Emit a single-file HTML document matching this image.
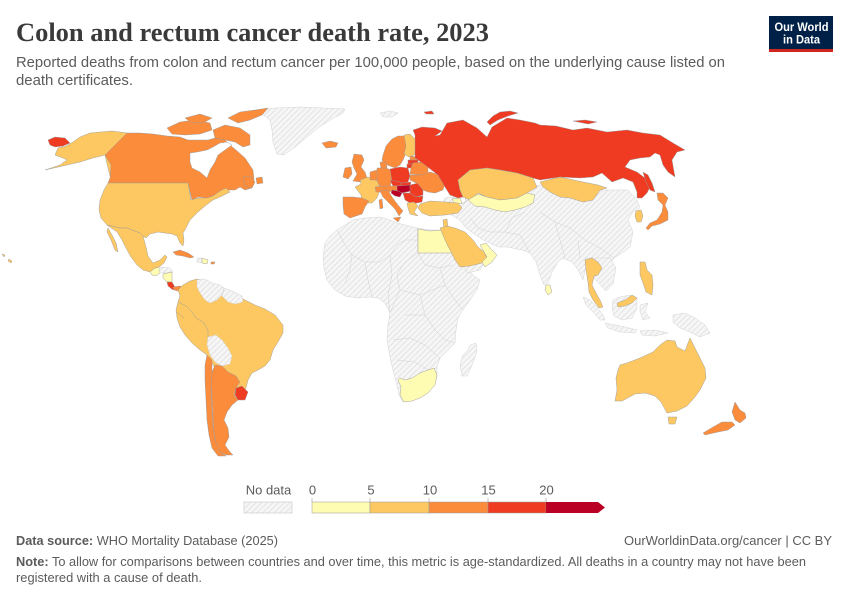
<!DOCTYPE html>
<html><head><meta charset="utf-8"><style>
html,body{margin:0;padding:0;background:#fff;}
svg{display:block;}
.c1{fill:#fefbb2}.c2{fill:#fdc861}.c3{fill:#fb8c3c}.c4{fill:#ee3b22}.c5{fill:#bb0026}
.m path,.m polygon{stroke:#9a9a9a;stroke-width:0.45;stroke-linejoin:round}
.nd{fill:url(#h);stroke:#cfcfcf !important;stroke-width:0.5}
.t{font-family:"Liberation Sans",sans-serif;fill:#5b5b5b}
</style></head><body>
<svg width="850" height="600" viewBox="0 0 850 600" xmlns="http://www.w3.org/2000/svg">
<defs>
<pattern id="h" width="4" height="4" patternUnits="userSpaceOnUse" patternTransform="rotate(45)">
<rect width="4" height="4" fill="#f6f6f6"/><line x1="0" y1="0" x2="0" y2="4" stroke="#d9d9d9" stroke-width="1.3"/>
</pattern>
</defs>
<rect width="850" height="600" fill="#fff"/>

<!-- Title -->
<text x="16" y="41" font-family="'Liberation Serif',serif" font-size="26" font-weight="bold" fill="#3a3a3a" textLength="473" lengthAdjust="spacingAndGlyphs">Colon and rectum cancer death rate, 2023</text>
<text class="t" x="16" y="67" font-size="14.5" textLength="709" lengthAdjust="spacingAndGlyphs">Reported deaths from colon and rectum cancer per 100,000 people, based on the underlying cause listed on</text>
<text class="t" x="16" y="85" font-size="14.5" textLength="117" lengthAdjust="spacingAndGlyphs">death certificates.</text>

<!-- Logo -->
<rect x="769" y="16" width="64" height="36" fill="#002147"/>
<rect x="769" y="49" width="64" height="3" fill="#ce261e"/>
<text x="801.5" y="31" font-family="'Liberation Sans',sans-serif" font-size="12" font-weight="bold" fill="#fff" text-anchor="middle" textLength="54" lengthAdjust="spacingAndGlyphs">Our World</text>
<text x="801.5" y="43.5" font-family="'Liberation Sans',sans-serif" font-size="12" font-weight="bold" fill="#fff" text-anchor="middle" textLength="37" lengthAdjust="spacingAndGlyphs">in Data</text>

<g class="m">
<!-- No data regions -->
<polygon class="nd" points="257,110 275,108 300,107 345,109 343,113 330,120 318,128 307,137 295,147 284,155 277,154 273,142 272,130 270,120 262,114"/>
<polygon class="nd" points="380,113 390,111 398,113 392,117 383,117"/>
<polygon class="nd" points="325,243 330,236 337,230 345,225 353,220 365,218 380,217 390,220 397,223 405,225 417,228 430,230 443,230 447,235 452,245 457,257 462,265 467,270 473,275 480,280 477,290 470,300 463,310 458,318 456,330 455,343 448,350 440,358 437,367 437,377 432,387 425,395 413,400 403,402 399,395 397,385 393,370 390,357 387,340 388,325 390,313 385,303 378,298 370,297 358,298 345,296 335,290 327,280 324,268 323,257"/>
<polygon class="nd" points="470,345 476,343 477,352 472,365 467,376 462,376 460,365 463,355 468,350"/>
<polygon class="nd" points="445,198 470,195 500,195 540,185 600,190 628,190 637,200 640,208 633,212 628,220 633,232 630,247 622,253 614,258 610,263 606,270 607,280 602,285 597,278 594,270 590,265 585,270 583,280 578,270 572,262 563,258 558,262 552,272 548,283 544,285 540,275 536,262 530,253 522,250 508,247 498,247 490,243 483,240 476,235 466,228 460,220 448,213 440,210"/>
<polygon class="nd" points="585,258 610,258 616,268 613,284 606,291 598,282 590,275"/>
<polygon class="nd" points="460,262 472,258 485,262 480,270 468,273"/>
<polygon class="nd" points="583,297 590,300 597,307 603,315 605,320 600,320 593,312 586,305"/>
<polygon class="nd" points="605,323 615,325 625,327 637,330 635,333 620,332 608,328"/>
<polygon class="nd" points="613,300 620,297 630,295 637,298 637,308 632,318 622,320 614,316 612,308"/>
<polygon class="nd" points="640,305 648,303 645,312 650,318 643,320 640,312"/>
<polygon class="nd" points="673,315 685,313 695,318 705,325 710,333 700,337 690,332 680,328 673,322"/>
<polygon class="nd" points="640,331 655,330 668,333 655,336 642,335"/>
<!-- faint internal borders in no-data areas -->
<g fill="none" stroke="#d2d2d2" stroke-width="0.5">
<polyline points="337,230 345,245 352,255 365,262 380,262 390,255 397,245 405,240 417,240"/>
<polyline points="352,255 350,270 345,283"/>
<polyline points="365,262 368,280 372,297"/>
<polyline points="390,255 392,275 388,295 390,313"/>
<polyline points="417,228 418,253 425,265 440,268 452,265"/>
<polyline points="418,253 405,262 397,275 400,290 390,313"/>
<polyline points="440,268 445,285 455,300 463,310"/>
<polyline points="400,290 420,295 445,285"/>
<polyline points="420,295 425,315 435,330 445,340 455,343"/>
<polyline points="405,315 425,315"/>
<polyline points="393,340 410,338 425,345 440,358"/>
<polyline points="397,360 415,362 428,370"/>
<polyline points="470,218 478,228 490,232 505,232 520,235 530,253"/>
<polyline points="505,232 512,218 525,212"/>
<polyline points="540,212 555,222 570,228 585,240 600,248 614,258"/>
<polyline points="555,222 560,240 565,258"/>
<polyline points="578,240 580,258"/>
</g>
<polygon fill="#fff" stroke="none" points="457,188 462,186 465,193 466,201 462,204 458,199"/>

<!-- North America -->
<polygon class="c2" points="127,133 112,131 101,132 90,133 80,137 73,142 66,146 58,148 55,155 63,158 67,160 60,165 45,170 67,165 80,162 93,158 105,155"/>
<polygon class="c2" points="105,155 109,158 113,166 113,175 110,176 107,164"/>
<polygon class="c4" points="48,140 55,137 65,138 70,143 63,146 55,147 50,145"/>
<polygon class="c3" points="105,155 127,133 140,133 153,134 167,136 180,137 188,140 198,140 208,140 215,138 225,140 230,145 236,150 245,158 253,170 254,180 252,188 245,190 240,187 235,190 228,190 222,190 215,195 207,198 198,197 192,200 188,183 108,183 110,178 111,165"/>
<polygon fill="#fff" stroke="none" points="190,153 197,152 207,150 213,147 220,143 227,142 232,145 225,150 218,155 215,162 210,170 207,178 200,172 192,168 190,162"/>
<polygon class="c3" points="167,128 180,122 195,120 210,123 212,130 200,134 185,135 172,134"/>
<polygon class="c3" points="213,130 225,125 240,128 250,135 250,145 243,147 235,142 225,140 215,138"/>
<polygon class="c3" points="228,118 240,112 255,110 268,108 262,115 250,120 238,123"/>
<polygon class="c3" points="185,118 200,114 212,118 205,122 192,123"/>
<polygon class="c3" points="243,177 250,176 255,182 252,188 245,186"/>
<polygon class="c3" points="256,178 262,177 263,183 257,184"/>
<polygon class="c2" points="108,183 188,183 191,200 198,198 207,198 213,196 220,191 226,188 230,192 222,196 213,200 205,206 198,212 190,220 186,228 183,233 184,240 183,246 180,243 177,236 172,234 165,233 158,232 150,234 146,238 143,236 140,233 127,228 120,228 107,225 101,218 99,210 100,200 104,190"/>
<polygon class="c2" points="107,225 120,228 127,228 140,233 143,236 146,247 148,256 153,263 160,260 165,255 167,257 164,263 159,267 155,268 150,272 143,270 137,265 131,257 126,248 122,240 117,232"/>
<polygon class="c2" points="108,228 112,235 116,243 118,252 115,250 111,240 107,232"/>
<polygon class="c1" points="150,272 155,268 159,267 160,273 156,276 152,275"/>
<polygon class="nd" points="159,267 170,268 173,272 165,273 160,273"/>
<polygon class="c1" points="163,274 172,272 172,282 167,282 163,278"/>
<polygon class="c4" points="167,282 172,282 175,287 173,290 168,286"/>
<polygon class="c3" points="173,287 180,286 186,288 184,292 178,291 174,290"/>
<polygon class="c3" points="173,252 180,250 188,253 194,257 190,258 183,256 176,255"/>
<polygon class="nd" points="197,258 202,258 202,263 197,262"/>
<polygon class="c1" points="202,258 208,260 207,264 202,263"/>
<polygon class="c3" points="211,262 215,262 214,264 211,264"/>
<polygon class="c2" points="2,254 5,255 4,257"/>
<polygon class="c2" points="9,259 12,261 11,263 8,261"/>

<!-- South America -->
<polygon class="c2" points="178,290 183,285 190,281 197,279 205,281 212,284 222,287 230,291 238,296 245,300 255,305 265,309 275,315 283,325 283,333 278,342 273,350 270,360 265,366 258,370 252,373 248,380 246,388 240,396 230,395 215,368 207,355 200,350 192,343 185,335 180,327 177,318 176,310 178,302 180,296"/>
<polyline fill="none" stroke="#9a9a9a" stroke-width="0.45" points="178,302 186,306 192,312 196,318 203,322 208,330 208,337"/>
<polyline fill="none" stroke="#9a9a9a" stroke-width="0.45" points="177,312 184,318"/>
<polygon class="nd" points="197,280 205,279 212,283 220,285 224,288 222,295 217,300 210,303 205,300 200,293 197,287"/>
<polygon class="nd" points="224,288 232,291 242,296 243,302 235,304 228,302 222,296"/>
<polygon class="nd" points="208,337 216,335 222,340 228,348 232,356 230,364 222,366 215,362 210,355 207,345"/>
<polygon class="c3" points="215,365 222,366 228,372 236,376 240,382 236,388 234,395 238,400 232,405 227,412 224,420 228,428 229,437 225,445 230,452 233,455 226,455 220,452 216,445 214,432 213,418 212,400 211,385 212,372"/>
<polygon class="c3" points="207,355 212,360 212,375 211,390 212,410 213,425 215,440 220,452 226,456 218,456 212,448 209,435 207,420 206,400 205,380 205,365"/>
<polygon class="c4" points="236,388 242,386 248,392 245,400 238,400 235,395"/>

<!-- Europe -->
<polygon class="c3" points="322,143 330,141 338,143 336,147 326,148"/>
<polygon class="c3" points="383,155 386,146 392,139 398,136 405,136 407,141 410,146 406,153 403,160 400,165 395,168 390,166 384,164 382,160"/>
<polygon class="c2" points="404,135 410,134 416,140 417,148 414,155 409,157 404,154 406,146"/>
<polygon class="c3" points="380,162 386,162 387,168 381,169"/>
<polygon class="c3" points="354,154 362,155 364,160 361,167 365,172 367,178 360,182 353,181 357,174 354,168 352,162"/>
<polygon class="c3" points="345,168 351,167 352,174 348,179 343,177"/>
<polygon class="c2" points="360,180 368,177 378,181 380,190 377,198 372,203 362,203 361,195 355,187 361,184"/>
<polygon class="c3" points="343,197 353,197 362,198 369,201 365,207 362,214 350,218 344,214 343,205"/>
<polygon class="c3" points="370,172 377,170 378,180 370,180"/>
<polygon class="c3" points="377,168 386,168 391,170 392,180 390,187 381,188 377,181"/>
<polygon class="c4" points="390,169 400,167 408,168 410,176 408,182 400,184 392,181"/>
<polygon class="c4" points="390,180 400,182 402,186 393,186"/>
<polygon class="c3" points="375,187 385,186 398,186 397,191 385,192 376,192"/>
<polygon class="c4" points="401,183 411,182 410,186 401,187"/>
<polygon class="c5" points="397,186 410,185 411,191 402,193 397,191"/>
<polygon class="c5" points="392,190 398,191 402,193 400,197 395,196 391,193"/>
<polygon class="c4" points="410,185 418,183 423,187 423,195 416,197 410,193"/>
<polygon class="c4" points="403,193 410,193 416,197 423,196 422,202 412,204 405,200"/>
<polygon class="c2" points="407,203 414,202 418,206 414,212 418,216 410,214 408,208"/>
<polygon class="c3" points="380,191 388,190 392,197 398,205 403,211 399,216 395,209 388,202 383,197"/>
<polygon class="c3" points="393,218 401,217 398,222"/>
<polygon class="c3" points="379,200 382,199 383,208 380,209"/>
<polygon class="c3" points="410,156 417,157 417,160 410,160"/>
<polygon class="c4" points="408,160 418,160 418,164 408,164"/>
<polygon class="c4" points="407,164 415,164 414,168 407,168"/>
<polygon class="c3" points="413,163 422,162 428,166 428,173 420,175 410,174 411,168"/>
<polygon class="c3" points="410,175 420,175 430,172 440,175 445,183 443,190 435,193 428,192 423,190 418,184 410,180"/>

<!-- Russia -->
<polygon class="c4" points="415,135 413,130 422,127 435,128 442,131 435,136 440,135 447,123 463,120 477,128 487,137 492,127 507,118 520,120 535,123 540,125 556,126 573,130 587,128 607,132 627,130 643,133 660,135 673,143 685,150 677,152 672,160 675,177 668,172 663,165 660,155 655,153 650,157 640,158 630,160 625,167 637,172 645,178 650,187 647,193 642,198 637,198 637,192 633,182 623,178 612,182 602,173 593,177 580,178 560,177 540,180 533,178 517,173 500,170 487,168 470,170 458,180 460,190 463,197 458,198 450,195 445,187 438,175 425,165 415,158 415,145"/>
<polygon class="c4" points="493,116 500,112 510,111 518,113 508,116 498,120 490,125 487,122"/>
<polygon class="c4" points="573,121 585,120 597,122 588,124"/>
<polygon class="c4" points="424,112 432,111 434,114 426,114"/>
<polygon class="c4" points="643,172 648,175 652,183 655,192 650,190 646,182"/>

<!-- Asia colored -->
<polygon class="c2" points="458,180 470,170 487,168 500,170 517,173 533,178 537,187 527,193 517,198 500,200 487,197 478,193 470,200 463,197 460,190"/>
<polygon class="c2" points="540,182 560,177 583,182 598,185 607,188 600,190 593,200 583,202 570,198 560,197 550,192 543,187"/>
<polygon class="c1" points="468,200 478,194 487,197 500,200 517,198 527,193 535,195 533,203 525,207 515,210 505,212 495,210 485,207 475,206"/>
<polygon class="c1" points="452,199 460,198 462,203 455,205"/>
<polygon class="c2" points="420,204 430,201 445,202 458,203 462,208 458,213 445,215 430,216 422,213 418,208"/>
<polygon class="c2" points="443,220 447,219 448,228 444,229"/>
<polygon class="c1" points="418,229 430,231 442,230 445,238 448,246 452,253 418,253"/>
<polygon class="c2" points="440,228 447,226 455,228 465,232 473,240 478,247 484,252 487,258 482,263 470,266 460,267 455,260 450,250 445,240"/>
<polygon class="c1" points="480,245 486,243 490,248 497,255 492,262 485,267 482,262 487,257 484,252"/>
<polygon class="c1" points="400,378 405,380 412,378 420,373 428,370 434,368 437,375 435,385 428,393 420,398 412,401 404,402 400,395 401,387 398,380"/>
<polygon class="c3" points="657,193 663,193 668,198 665,205 668,212 668,220 660,224 652,226 648,230 646,228 650,223 657,220 662,212 663,205 658,200"/>
<polygon class="c2" points="636,211 641,210 643,216 641,222 637,222 635,216"/>
<polygon class="c2" points="585,260 592,258 598,262 602,268 598,275 594,276 592,285 596,293 600,300 603,307 599,308 593,300 589,292 588,282 586,270"/>
<polygon class="c2" points="617,303 625,300 632,295 637,298 632,303 625,306 618,307"/>
<polygon class="c2" points="640,262 645,262 647,270 652,275 653,285 652,295 646,292 643,283 640,275"/>
<polygon class="c1" points="546,285 550,285 552,292 548,295 545,290"/>

<!-- Oceania -->
<polygon class="c2" points="620,365 627,363 640,358 653,352 660,345 667,340 675,341 677,347 685,351 688,343 690,338 695,348 700,358 705,368 706,378 700,390 695,397 687,406 677,411 667,413 661,402 655,396 645,393 635,394 622,401 615,401 617,390 616,378 618,370"/>
<polygon class="c2" points="668,417 677,417 675,424 669,424"/>
<polygon class="c3" points="735,402 740,410 745,413 746,418 740,423 735,420 732,412"/>
<polygon class="c3" points="732,422 735,425 728,430 718,432 705,435 703,433 713,427 722,422"/>
</g>

<!-- Legend -->
<text class="t" x="268.5" y="494.5" font-size="13" text-anchor="middle">No data</text>
<rect x="244" y="502" width="48" height="11" fill="url(#h)" stroke="#c8c8c8" stroke-width="0.6"/>
<rect x="312" y="502" width="58" height="11" class="c1" stroke="#999" stroke-width="0.5"/>
<rect x="370" y="502" width="59" height="11" class="c2" stroke="#999" stroke-width="0.5"/>
<rect x="429" y="502" width="59" height="11" class="c3" stroke="#999" stroke-width="0.5"/>
<rect x="488" y="502" width="58" height="11" class="c4" stroke="#999" stroke-width="0.5"/>
<polygon points="546,502 598,502 605,507.5 598,513 546,513" class="c5"/>
<g stroke="#999" stroke-width="0.6">
<line x1="312" y1="498" x2="312" y2="502"/><line x1="370" y1="498" x2="370" y2="502"/><line x1="429" y1="498" x2="429" y2="502"/><line x1="488" y1="498" x2="488" y2="502"/><line x1="546" y1="498" x2="546" y2="502"/>
</g>
<g class="t" font-size="13" text-anchor="middle">
<text x="312.5" y="494.5">0</text><text x="371" y="494.5">5</text><text x="430" y="494.5">10</text><text x="488.5" y="494.5">15</text><text x="546.5" y="494.5">20</text>
</g>

<!-- Footer -->
<text class="t" x="16" y="545" font-size="13" textLength="262" lengthAdjust="spacingAndGlyphs"><tspan font-weight="bold">Data source:</tspan> WHO Mortality Database (2025)</text>
<text class="t" x="832" y="545" font-size="13" text-anchor="end" textLength="208" lengthAdjust="spacingAndGlyphs">OurWorldinData.org/cancer | CC BY</text>
<text class="t" x="16" y="566" font-size="13" textLength="790" lengthAdjust="spacingAndGlyphs"><tspan font-weight="bold">Note:</tspan> To allow for comparisons between countries and over time, this metric is age-standardized. All deaths in a country may not have been</text>
<text class="t" x="16" y="582" font-size="13" textLength="186" lengthAdjust="spacingAndGlyphs">registered with a cause of death.</text>
</svg>
</body></html>
